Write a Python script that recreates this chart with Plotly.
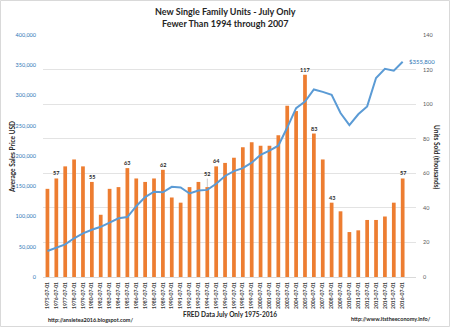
import plotly.graph_objects as go

years = [1975, 1976, 1977, 1978, 1979, 1980, 1982, 1983, 1984, 1985, 1986, 1987, 1988,
         1989, 1990, 1991, 1992, 1993, 1994, 1995, 1996, 1997, 1998, 1999, 2000, 2001,
         2002, 2003, 2004, 2005, 2006, 2007, 2008, 2009, 2010, 2011, 2012, 2013, 2014,
         2015, 2016]
categories = [f"{y}-07-01" for y in years]
units_sold = [51, 57, 64, 68, 64, 55, 36, 51, 52, 63, 57, 55, 57, 62, 46, 43, 52, 55, 52,
              64, 66, 69, 75, 78, 76, 76, 82, 99, 96, 117, 83, 68, 43, 38, 26, 27, 33, 33,
              35, 43, 57]
avg_price = [43000, 49000, 54000, 64000, 72000, 78000, 83000, 90000, 97000, 99000, 117000,
             132000, 141000, 140000, 149000, 148000, 138000, 143000, 144000, 154000, 167000,
             175000, 180000, 189000, 202000, 209000, 217000, 247000, 279000, 290000, 310000,
             306000, 301000, 271000, 251000, 269000, 282000, 329000, 344000, 341000, 355800]
labeled_years = [1976, 1980, 1985, 1989, 1994, 1995, 2005, 2006, 2008, 2016]
leader_years = [1994]
title_lines = ["New Single Family Units - July Only", "Fewer Than 1994 through 2007"]

FONT = "Lato"
W, H = 450, 327
L, R, T, B = 43, 34, 35, 50
PW = W - L - R
PH = H - T - B

def px(x):
    return (x - L) / PW

def py(y):
    return (H - B - y) / PH

fig = go.Figure()
fig.add_trace(go.Bar(x=categories, y=units_sold, yaxis="y", marker_color="#ED7D31",
                     marker_line_width=0, width=0.42, name="Units Sold"))
fig.add_trace(go.Scatter(x=categories, y=avg_price, yaxis="y2", mode="lines",
                         line=dict(color="#5B9BD5", width=2), name="Average Sales Price"))

LBL = dict(family=FONT, size=5.5, color="#262626", weight="bold")
ann = []
for y in labeled_years:
    i = years.index(y)
    v = units_sold[i]
    if y in leader_years:
        ann.append(dict(x=categories[i], y=v, xref="x", yref="y", text=str(v),
                        showarrow=True, ax=0, ay=-13, arrowhead=0, arrowwidth=0.6,
                        arrowcolor="#A6A6A6", standoff=0, font=LBL))
    else:
        ann.append(dict(x=categories[i], y=v, xref="x", yref="y", text=str(v),
                        showarrow=False, xanchor="center", yanchor="bottom", font=LBL))

ann.append(dict(x=categories[-1], y=avg_price[-1], xref="x", yref="y2",
                text=f"${avg_price[-1]:,.0f}", showarrow=False, xanchor="left",
                yanchor="middle", xshift=4, font=dict(family=FONT, size=6, color="#2E75B6")))

def paper_text(x, y, text, size, angle=0, xanchor="center"):
    ann.append(dict(x=px(x), y=py(y), xref="paper", yref="paper", text=text,
                    textangle=angle, showarrow=False, xanchor=xanchor, yanchor="middle",
                    font=dict(family=FONT, size=size, color="#262626", weight="bold")))

paper_text(12, 157, "Average Sales Price USD", 6.5, -90)
paper_text(437, 157, "Units Sold (thousands)", 6.5, 90)
paper_text(230, 314, "FRED Data July Only 1975-2016", 6.5)
paper_text(46, 320, "http://ansietea2016.blogspot.com/", 5.5, xanchor="left")
paper_text(433, 319, "http://www.itstheeconomy.info/", 5.5, xanchor="right")
paper_text(225, 11, title_lines[0], 9)
paper_text(225, 23.5, title_lines[1], 9)

fig.update_layout(
    width=W, height=H,
    margin=dict(l=L, r=R, t=T, b=B, pad=0),
    paper_bgcolor="white", plot_bgcolor="white",
    showlegend=False,
    xaxis=dict(type="category", range=[-0.5, len(categories) + 0.5], tickangle=-90,
               tickfont=dict(family=FONT, size=5, color="#404040", weight="bold"),
               showgrid=False, showline=True, linecolor="#D9D9D9", linewidth=1,
               ticks="", ticklabelstandoff=2, automargin=False),
    yaxis=dict(side="right", range=[0, 140], dtick=20, showgrid=True, gridcolor="#E3E3E3",
               gridwidth=1, zeroline=False, automargin=False,
               tickfont=dict(family=FONT, size=5.5, color="#595959"), ticklabelstandoff=6),
    yaxis2=dict(side="left", overlaying="y", range=[0, 400000], dtick=50000,
                tickformat=",d", showgrid=False, zeroline=False, automargin=False,
                tickfont=dict(family=FONT, size=5.5, color="#2E75B6"), ticklabelstandoff=6),
    annotations=ann,
    shapes=[dict(type="rect", xref="paper", yref="paper", x0=px(0.5), x1=px(W - 0.5),
                 y0=py(H - 0.5), y1=py(0.5), line=dict(color="#D9D9D9", width=1))],
)

fig.write_html("out.html")
